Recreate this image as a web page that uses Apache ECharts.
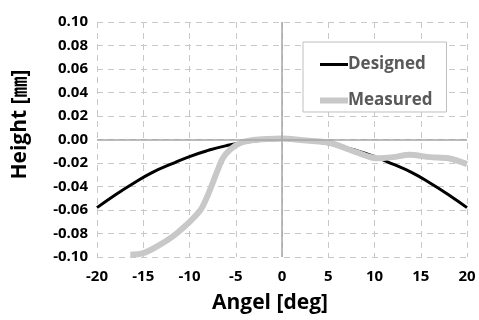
<!DOCTYPE html>
<html>
<head>
<meta charset="utf-8">
<script src="https://cdn.jsdelivr.net/npm/echarts@6/dist/echarts.min.js"></script>
<style>
  html, body { margin: 0; padding: 0; background: #fff; }
  #main { width: 479px; height: 320px; }
</style>
</head>
<body>
<div id="main"></div>
<script>
// designed profile
var designedX = [-20, -18, -16, -14, -12, -10, -8, -6, -4, -2, 0, 2, 4, 6, 8, 10, 12, 14, 16, 18, 20];
var designedY = [-0.058, -0.047, -0.037, -0.028, -0.021, -0.0145, -0.0093, -0.0052, -0.0023, -0.0006, 0,
                 -0.0006, -0.0023, -0.0052, -0.0093, -0.0145, -0.021, -0.028, -0.037, -0.047, -0.058];
// measured profile
var measuredX = [-16.4, -15.1, -13.5, -11.4, -8.9, -8.0, -7.0, -6.4, -5.6, -4.5, -3.1, -1.5, 0, 2, 5.2, 8.1, 10.3, 12, 13.8, 16, 18, 20];
var measuredY = [-0.098, -0.097, -0.091, -0.080, -0.061, -0.047, -0.027, -0.016, -0.0085, -0.003, -0.0005, 0.0005, 0.0008, -0.0005, -0.003, -0.011, -0.016, -0.015, -0.013, -0.015, -0.016, -0.021];

var chart = echarts.init(document.getElementById('main'));

function pairs(xs, ys) {
  var out = [];
  for (var i = 0; i < xs.length; i++) out.push([xs[i], ys[i]]);
  return out;
}

var fontFam = '"Open Sans", "Noto Sans CJK JP", sans-serif';
// legend icons: a horizontal bar, tiny corner dots keep the 28x14 box
var thinBar = 'path://M0,0L0.01,0L0,0.01Z M0,5.5L28,5.5L28,8.5L0,8.5Z M28,14L27.99,14L28,13.99Z';
var thickBar = 'path://M0,0L0.01,0L0,0.01Z M0,4L28,4L28,10L0,10Z M28,14L27.99,14L28,13.99Z';

option = {
  animation: false,
  grid: { left: 97, right: 12, top: 22, bottom: 63, outerBoundsMode: 'none' },
  legend: {
    orient: 'vertical',
    left: 303,
    top: 42,
    padding: [14, 14, 3, 17],
    itemGap: 19,
    itemWidth: 28,
    itemHeight: 14,
    backgroundColor: '#fff',
    borderColor: '#bfbfbf',
    borderWidth: 1,
    textStyle: { color: '#595959', fontSize: 17, fontWeight: 'bold', fontFamily: fontFam, padding: [0, 0, 0, -5] },
    data: [
      { name: 'Designed', icon: thinBar },
      { name: 'Measured', icon: thickBar }
    ]
  },
  xAxis: {
    type: 'value',
    min: -20, max: 20, interval: 5,
    name: 'Angel [deg]',
    nameLocation: 'middle',
    nameGap: 36,
    nameTextStyle: { color: '#000', fontSize: 21, fontWeight: 'bold', fontFamily: fontFam, padding: [0, 24, 0, 0] },
    axisLine: { show: false },
    axisTick: { show: false },
    axisLabel: { color: '#000', fontSize: 15, fontWeight: 'bold', fontFamily: fontFam, margin: 12 },
    splitLine: { show: true, lineStyle: { color: '#c8c8c8', type: [6, 5], width: 1 } }
  },
  yAxis: {
    type: 'value',
    min: -0.10, max: 0.10, interval: 0.02,
    name: 'Height [㎜]',
    nameLocation: 'middle',
    nameGap: 66,
    nameTextStyle: { color: '#000', fontSize: 21, fontWeight: 'bold', fontFamily: fontFam, padding: [0, 0, 0, 30] },
    axisLine: { show: false },
    axisTick: { show: false },
    axisLabel: {
      color: '#000', fontSize: 15, fontWeight: 'bold', fontFamily: fontFam, margin: 9,
      formatter: function (v) { return v.toFixed(2); }
    },
    splitLine: { show: true, lineStyle: { color: '#c8c8c8', type: [6, 5], width: 1 } }
  },
  series: [
    {
      name: 'Zero',
      type: 'line',
      data: [],
      silent: true,
      markLine: {
        symbol: 'none',
        silent: true,
        label: { show: false },
        lineStyle: { color: '#a6a6a6', type: 'solid', width: 1.5 },
        data: [{ xAxis: 0 }, { yAxis: 0 }]
      }
    },
    {
      name: 'Designed',
      type: 'line',
      smooth: true,
      symbol: 'none',
      data: pairs(designedX, designedY),
      lineStyle: { color: '#000', width: 3 },
      itemStyle: { color: '#000' },
      z: 3
    },
    {
      name: 'Measured',
      type: 'line',
      smooth: 0.3,
      symbol: 'none',
      data: pairs(measuredX, measuredY),
      lineStyle: { color: '#c8c8c8', width: 6 },
      itemStyle: { color: '#c8c8c8' },
      z: 4
    }
  ]
};
chart.setOption(option);
</script>
</body>
</html>
